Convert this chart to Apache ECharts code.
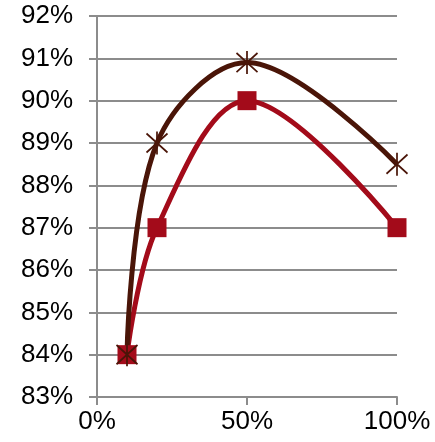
<!DOCTYPE html>
<html><head><meta charset="utf-8">
<script src="https://cdn.jsdelivr.net/npm/echarts@6/dist/echarts.min.js"></script>
<style>html,body{margin:0;padding:0;background:#fff}#c{width:435px;height:442px}</style>
</head><body><div id="c"></div>
<script>
const xValues = [10, 20, 50, 100];
const seriesStar = [84, 89, 90.9, 88.5];
const seriesSquare = [84, 87, 90, 87];
const xTicks = [0, 50, 100];
const yRange = [83, 92];

const chart = echarts.init(document.getElementById('c'));
const gray = '#8c8c8c';
const font = 'Liberation Sans, Arial, sans-serif';
chart.setOption({
  animation: false,
  grid: {left: 97, right: 38, top: 16, bottom: 45, containLabel: false},
  xAxis: {
    type: 'value', min: xTicks[0], max: xTicks[xTicks.length-1], interval: 50,
    axisLine: {show: true, lineStyle: {color: gray, width: 2}},
    axisTick: {show: true, length: 8, lineStyle: {color: gray, width: 2}},
    splitLine: {show: false},
    axisLabel: {formatter: '{value}%', color: '#000', fontSize: 26, fontFamily: font, margin: 12}
  },
  yAxis: {
    type: 'value', min: yRange[0], max: yRange[1], interval: 1,
    axisLine: {show: true, lineStyle: {color: gray, width: 2}},
    axisTick: {show: true, length: 8, lineStyle: {color: gray, width: 2}},
    splitLine: {show: true, lineStyle: {color: gray, width: 2}},
    axisLabel: {formatter: '{value}%', color: '#000', fontSize: 26, fontFamily: font, margin: 24}
  },
  series: [
    {
      type: 'line', smooth: 0.35,
      data: xValues.map((x, i) => [x, seriesSquare[i]]),
      lineStyle: {color: '#a30b1a', width: 5},
      symbol: 'rect', symbolSize: 19,
      itemStyle: {color: '#a30b1a'}
    },
    {
      type: 'line', smooth: 0.35,
      data: xValues.map((x, i) => [x, seriesStar[i]]),
      lineStyle: {color: '#4a1508', width: 5},
      symbol: 'path://M0,1L10,11M10,1L0,11M5,0L5,12', symbolSize: [21, 23],
      symbolKeepAspect: false,
      itemStyle: {color: 'none', borderColor: '#4a1508', borderWidth: 1.8}
    }
  ]
});
</script></body></html>
